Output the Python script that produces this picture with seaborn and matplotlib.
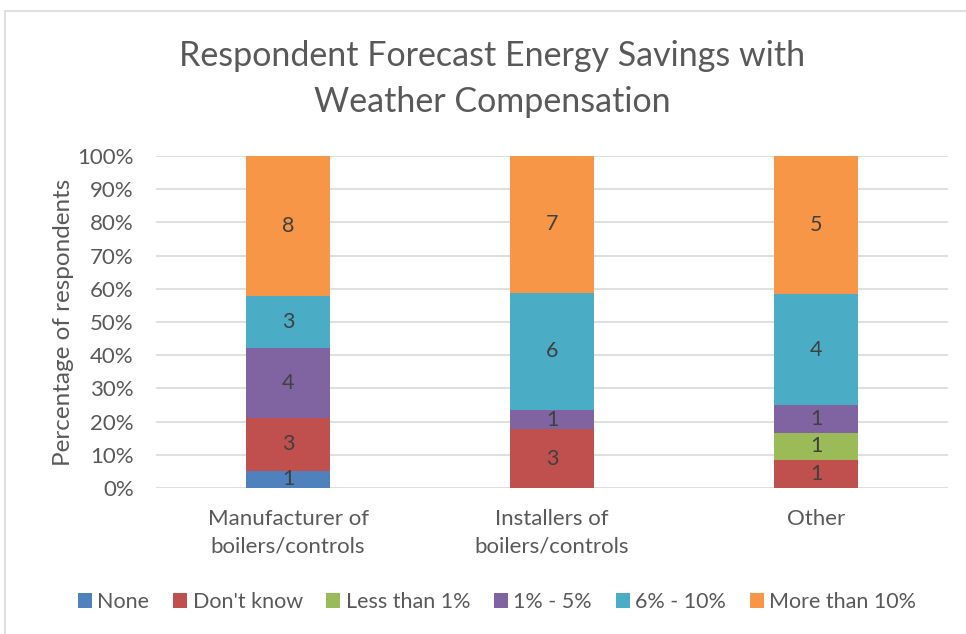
import numpy as np
import pandas as pd
import matplotlib
matplotlib.use("Agg")
import matplotlib.pyplot as plt
import seaborn as sns
from matplotlib.patches import Rectangle

categories = ["Manufacturer of\nboilers/controls", "Installers of\nboilers/controls", "Other"]
series = ["None", "Don't know", "Less than 1%", "1% - 5%", "6% - 10%", "More than 10%"]
none_v = [1, 0, 0]
dontknow_v = [3, 3, 1]
lt1_v = [0, 0, 1]
p1_5_v = [4, 1, 1]
p6_10_v = [3, 6, 4]
gt10_v = [8, 7, 5]
colors = ["#4F81BD", "#C0504D", "#9BBB59", "#8064A2", "#4BACC6", "#F79646"]
yticks = [0, 10, 20, 30, 40, 50, 60, 70, 80, 90, 100]

sns.set_theme(style="white")
plt.rcParams["font.family"] = ["Lato", "DejaVu Sans"]
txt = "#595959"

counts = np.array([none_v, dontknow_v, lt1_v, p1_5_v, p6_10_v, gt10_v], dtype=float)
totals = counts.sum(axis=0)
pct = counts / totals * 100
cum = np.cumsum(pct, axis=0)

fig = plt.figure(figsize=(9.66, 6.34), dpi=100)
fig.patch.set_facecolor("white")
fig.add_artist(Rectangle((5/966, -0.1), 1.2, 0.1 + (634-11)/634, transform=fig.transFigure,
                         fill=False, edgecolor="#D9D9D9", linewidth=1.2))
ax = fig.add_axes([156/966, 1-488/634, (948-156)/966, (488-156)/634])

for i in range(len(series)-1, -1, -1):
    df = pd.DataFrame({"cat": categories, "val": cum[i]})
    sns.barplot(data=df, x="cat", y="val", color=colors[i], saturation=1,
                width=0.315, ax=ax, zorder=3, linewidth=0)

for i in range(len(series)):
    for j in range(len(categories)):
        if counts[i, j] > 0:
            yc = cum[i, j] - pct[i, j] / 2
            ax.text(j, yc, f"{int(counts[i, j])}", ha="center", va="center",
                    fontsize=15.5, color="#404040", zorder=5)

ax.set_ylim(0, 100)
ax.set_xlim(-0.5, 2.5)
ax.set_yticks(yticks)
ax.set_yticklabels([f"{t}%" for t in yticks], fontsize=16, color=txt)
ax.yaxis.grid(True, color="#D9D9D9", linewidth=1.2, zorder=0)
ax.set_axisbelow(True)
for s in ax.spines.values():
    s.set_visible(False)
ax.tick_params(axis="y", length=0, pad=16)
ax.tick_params(axis="x", length=0, pad=15)
plt.setp(ax.get_xticklabels(), fontsize=16, color=txt, linespacing=1.45)
ax.set_xlabel("")
ax.set_ylabel("Percentage of respondents", fontsize=17.5, color=txt, labelpad=2)

fig.suptitle("Respondent Forecast Energy Savings with\nWeather Compensation",
             x=492/966, y=1-40/634, fontsize=24.5, color=txt, linespacing=1.55, va="top")

handles = [Rectangle((0, 0), 1, 1, facecolor=c, edgecolor="none") for c in colors]
fig.legend(handles, series, loc="center", bbox_to_anchor=(497/966, 1-602/634), ncol=6,
           frameon=False, fontsize=15.5, labelcolor=txt, handlelength=0.65, handleheight=0.65,
           handletextpad=0.25, columnspacing=1.1)

fig.savefig("out.png", dpi=100, facecolor="white")
